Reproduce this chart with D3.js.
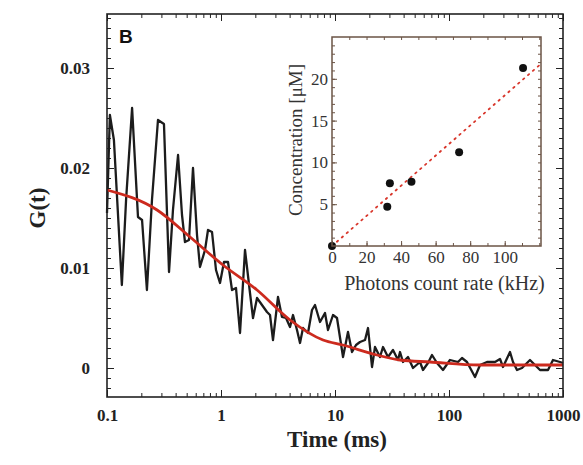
<!DOCTYPE html>
<html lang="en">
<head>
<meta charset="utf-8">
<title>FCS correlation curve</title>
<script src="https://d3js.org/d3.v7.min.js"></script>
<style>
  body { margin: 0; background: #fff; }
  svg { display: block; }
</style>
</head>
<body>
<script>
// correlation data (time in ms, G(t))
var timeMs = [0.100, 0.106, 0.115, 0.135, 0.147, 0.166, 0.187, 0.203, 0.224, 0.248,
  0.280, 0.316, 0.350, 0.379, 0.420, 0.455, 0.483, 0.524, 0.568, 0.616,
  0.654, 0.724, 0.769, 0.834, 0.904, 0.980, 1.062, 1.152, 1.249, 1.354,
  1.468, 1.624, 1.796, 1.909, 2.070, 2.289, 2.532, 2.691, 2.858, 3.162,
  3.429, 3.718, 4.031, 4.282, 4.642, 4.932, 5.240, 5.797, 6.285, 6.676,
  7.386, 8.170, 8.681, 9.605, 10.41, 11.76, 13.00, 14.10, 15.29, 16.57,
  18.34, 19.48, 21.12, 22.43, 24.81, 26.37, 29.17, 32.27, 35.70, 37.18,
  39.50, 43.69, 48.33, 55.67, 59.14, 65.41, 70.94, 78.48, 88.60, 102.0,
  119.9, 130.0, 143.8, 169.1, 187.1, 215.4, 253.2, 280.2, 297.6, 342.9,
  364.3, 395.0, 436.9, 513.3, 545.6, 628.5, 738.6, 817.0, 941.3, 1000]
var gMeasured = [0.0155, 0.0253, 0.0228, 0.0083, 0.0168, 0.0260, 0.0151, 0.0148, 0.0078, 0.0168,
  0.0248, 0.0244, 0.0096, 0.0158, 0.0213, 0.0153, 0.0126, 0.0128, 0.0200, 0.0133,
  0.0101, 0.0118, 0.0138, 0.0136, 0.0098, 0.0085, 0.0106, 0.0106, 0.0078, 0.0080,
  0.0035, 0.0118, 0.0075, 0.0050, 0.0070, 0.0063, 0.0056, 0.0053, 0.0028, 0.0071,
  0.0051, 0.0050, 0.0041, 0.0053, 0.0038, 0.0025, 0.0040, 0.0035, 0.0058, 0.0063,
  0.0046, 0.0055, 0.0038, 0.0053, 0.0050, 0.0011, 0.0036, 0.0016, 0.0023, 0.0026,
  0.0028, 0.0040, 0.0001, 0.0021, 0.0011, 0.0021, 0.0011, 0.0018, 0.0008, 0.0016,
  0.0006, 0.0011, 0.0000, 0.0006, -0.0002, 0.0005, 0.0013, 0.0005, -0.0002, 0.0008,
  0.0006, 0.0010, 0.0006, -0.0009, 0.0003, 0.0006, 0.0006, 0.0009, 0.0001, 0.0016,
  0.0006, -0.0002, 0.0000, 0.0008, 0.0005, -0.0002, -0.0002, 0.0008, 0.0006, 0.0005]

// fitted curve (red), sampled by eye
var fitTime = [0.1, 0.275, 0.535, 1.04, 2.07, 4.03, 7.85, 11.7, 23.3, 37.2, 68, 187, 1000]
var fitG = [0.0178, 0.0158, 0.0131, 0.0103, 0.0078, 0.0048, 0.0028, 0.0023, 0.0013, 0.0008, 0.0006, 0.0003, 0.0003]

// inset: concentration vs photon count rate
var countRate = [0, 32, 33.5, 46, 73.6, 110.6]
var concentration = [0, 4.7, 7.5, 7.7, 11.2, 21.3]
var lineRate = [0, 121]
var lineConc = [0, 21.8]

// tick labels
var timeTicks = [0.1, 1, 10, 100, 1000]
var gTicks = [0, 0.01, 0.02, 0.03]
var rateTicks = [0, 20, 40, 60, 80, 100]
var concTicks = [5, 10, 15, 20]

var w = 583, h = 465
var svg = d3.select("body").append("svg").attr("width", w).attr("height", h)

var serif = "'Liberation Serif', 'Times New Roman', serif"

// ---------- main panel ----------
// (don't call these top/left... window.top is read only)
var mL = 107, mR = 563, mT = 14, mB = 397

var x = d3.scaleLog().domain([0.1, 1000]).range([mL, mR])
var y = d3.scaleLinear().domain([-0.0029, 0.0354]).range([mB, mT])

// minor ticks
var minorTime = []
for (var dec = 0.1; dec < 999; dec *= 10) {
  for (var k = 2; k <= 9; k++) minorTime.push(dec * k)
}
var minorG = d3.range(-0.002, 0.0351, 0.001)

function styleAxis(g) {
  g.select(".domain").remove()
  g.selectAll("line").attr("stroke", "#222").attr("stroke-width", 1)
}

// bottom + top
svg.append("g").attr("transform", "translate(0," + mB + ")")
  .call(d3.axisBottom(x).tickValues(minorTime).tickSize(-4).tickFormat(""))
  .call(styleAxis)
svg.append("g").attr("transform", "translate(0," + mT + ")")
  .call(d3.axisTop(x).tickValues(minorTime).tickSize(-4).tickFormat(""))
  .call(styleAxis)
svg.append("g").attr("transform", "translate(0," + mT + ")")
  .call(d3.axisTop(x).tickValues(timeTicks).tickSize(-7).tickFormat(""))
  .call(styleAxis)
var xAxis = svg.append("g").attr("transform", "translate(0," + mB + ")")
  .call(d3.axisBottom(x).tickValues(timeTicks).tickSize(-7).tickPadding(12)
    .tickFormat(function(d) { return d }))
  .call(styleAxis)
xAxis.selectAll("text").attr("font-family", serif).attr("font-weight", "bold")
  .attr("font-size", 17).attr("fill", "#222")

// left + right
svg.append("g").attr("transform", "translate(" + mL + ",0)")
  .call(d3.axisLeft(y).tickValues(minorG).tickSize(-4).tickFormat(""))
  .call(styleAxis)
svg.append("g").attr("transform", "translate(" + mR + ",0)")
  .call(d3.axisRight(y).tickValues(minorG).tickSize(-4).tickFormat(""))
  .call(styleAxis)
svg.append("g").attr("transform", "translate(" + mR + ",0)")
  .call(d3.axisRight(y).tickValues(gTicks).tickSize(-7).tickFormat(""))
  .call(styleAxis)
var yAxis = svg.append("g").attr("transform", "translate(" + mL + ",0)")
  .call(d3.axisLeft(y).tickValues(gTicks).tickSize(-7).tickPadding(17)
    .tickFormat(function(d) { return d }))
  .call(styleAxis)
yAxis.selectAll("text").attr("font-family", serif).attr("font-weight", "bold")
  .attr("font-size", 17).attr("fill", "#222")

// data lines
var measured = timeMs.map(function(t, i) { return [t, gMeasured[i]] })
var fitted = fitTime.map(function(t, i) { return [t, fitG[i]] })

svg.append("path").datum(measured)
  .attr("fill", "none").attr("stroke", "#1c1c1c").attr("stroke-width", 2.3)
  .attr("stroke-linejoin", "round")
  .attr("d", d3.line().x(function(d) { return x(d[0]) }).y(function(d) { return y(d[1]) }))

svg.append("path").datum(fitted)
  .attr("fill", "none").attr("stroke", "#cc2a1e").attr("stroke-width", 2.8)
  .attr("d", d3.line().curve(d3.curveMonotoneX)
    .x(function(d) { return x(d[0]) }).y(function(d) { return y(d[1]) }))

// frame
svg.append("rect").attr("x", mL).attr("y", mT)
  .attr("width", mR - mL).attr("height", mB - mT)
  .attr("fill", "none").attr("stroke", "#222").attr("stroke-width", 1.6)

// labels
svg.append("text").attr("x", 119).attr("y", 43)
  .attr("font-family", "'Liberation Sans', Arial, sans-serif").attr("font-weight", "bold")
  .attr("font-size", 19).attr("fill", "#111").text("B")

svg.append("text").attr("transform", "translate(45,208) rotate(-90)")
  .attr("text-anchor", "middle")
  .attr("font-family", serif).attr("font-weight", "bold").attr("font-size", 23)
  .attr("fill", "#222").text("G(t)")

svg.append("text").attr("x", (mL + mR) / 2 + 2).attr("y", 447)
  .attr("text-anchor", "middle")
  .attr("font-family", serif).attr("font-weight", "bold").attr("font-size", 23)
  .attr("fill", "#222").text("Time (ms)")

// ---------- inset ----------
var iL = 332, iR = 541, iT = 37, iB = 246
var ix = d3.scaleLinear().domain([0, 121]).range([iL, iR])
var iy = d3.scaleLinear().domain([0, 25]).range([iB, iT])

var inset = svg.append("g")
inset.append("rect").attr("x", iL).attr("y", iT)
  .attr("width", iR - iL).attr("height", iB - iT).attr("fill", "#fff")

function styleInset(g) {
  g.select(".domain").remove()
  g.selectAll("line").attr("stroke", "#6b5446").attr("stroke-width", 1)
}

var minorRate = d3.range(10, 121, 10)
var minorConc = d3.range(1, 25, 1)

inset.append("g").attr("transform", "translate(0," + iB + ")")
  .call(d3.axisBottom(ix).tickValues(minorRate).tickSize(-3).tickFormat(""))
  .call(styleInset)
inset.append("g").attr("transform", "translate(0," + iT + ")")
  .call(d3.axisTop(ix).tickValues(minorRate).tickSize(-3).tickFormat(""))
  .call(styleInset)
inset.append("g").attr("transform", "translate(" + iL + ",0)")
  .call(d3.axisLeft(iy).tickValues(minorConc).tickSize(-3).tickFormat(""))
  .call(styleInset)
inset.append("g").attr("transform", "translate(" + iR + ",0)")
  .call(d3.axisRight(iy).tickValues(minorConc).tickSize(-3).tickFormat(""))
  .call(styleInset)

var ixAxis = inset.append("g").attr("transform", "translate(0," + iB + ")")
  .call(d3.axisBottom(ix).tickValues(rateTicks).tickSize(-5).tickPadding(5))
  .call(styleInset)
ixAxis.selectAll("text").attr("font-family", serif).attr("font-size", 17).attr("fill", "#333")

var iyAxis = inset.append("g").attr("transform", "translate(" + iL + ",0)")
  .call(d3.axisLeft(iy).tickValues(concTicks).tickSize(-5).tickPadding(4))
  .call(styleInset)
iyAxis.selectAll("text").attr("font-family", serif).attr("font-size", 17).attr("fill", "#333")

// fit line
inset.append("line")
  .attr("x1", ix(lineRate[0])).attr("y1", iy(lineConc[0]))
  .attr("x2", ix(lineRate[1])).attr("y2", iy(lineConc[1]))
  .attr("stroke", "#d8352a").attr("stroke-width", 1.8)
  .attr("stroke-dasharray", "1.5,5").attr("stroke-linecap", "round")

// points
inset.selectAll("circle").data(countRate).enter().append("circle")
  .attr("cx", function(d) { return ix(d) })
  .attr("cy", function(d, i) { return iy(concentration[i]) })
  .attr("r", 4).attr("fill", "#111")

inset.append("rect").attr("x", iL).attr("y", iT)
  .attr("width", iR - iL).attr("height", iB - iT)
  .attr("fill", "none").attr("stroke", "#6b5446").attr("stroke-width", 1.5)

inset.append("text").attr("x", (iL + iR) / 2 + 8).attr("y", 290)
  .attr("text-anchor", "middle").attr("font-family", serif).attr("font-size", 20)
  .attr("fill", "#333").text("Photons count rate (kHz)")

inset.append("text").attr("transform", "translate(302,140) rotate(-90)")
  .attr("text-anchor", "middle").attr("font-family", serif).attr("font-size", 19)
  .attr("fill", "#333").text("Concentration [\u03bcM]")
</script>
</body>
</html>
